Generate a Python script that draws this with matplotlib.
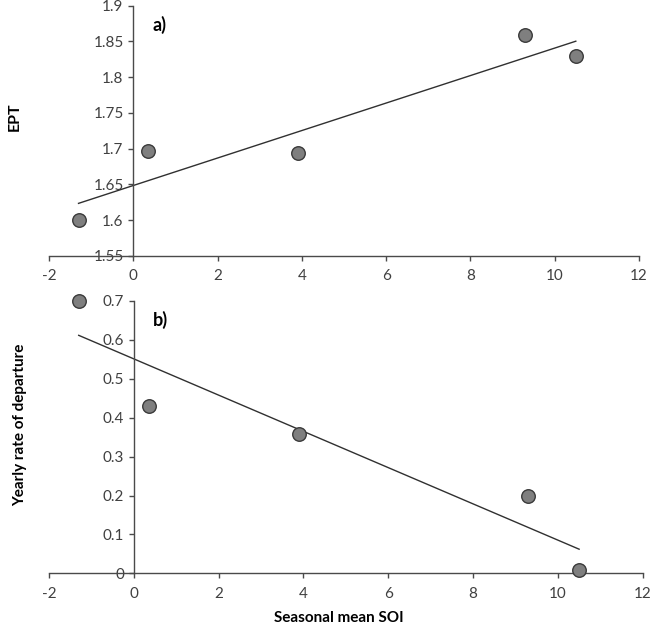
import numpy as np
import matplotlib
matplotlib.use("Agg")
import matplotlib.pyplot as plt

plt.rcParams["font.family"] = ["Lato", "DejaVu Sans"]

# 季节平均 SOI 与两个响应变量
soi = [-1.3, 0.35, 3.9, 9.3, 10.5]
ept = [1.601, 1.697, 1.694, 1.859, 1.829]
departure = [0.70, 0.43, 0.358, 0.20, 0.008]

x_ticks = [-2, 0, 2, 4, 6, 8, 10, 12]
ept_ticks = [1.55, 1.6, 1.65, 1.7, 1.75, 1.8, 1.85, 1.9]
dep_ticks = [0, 0.1, 0.2, 0.3, 0.4, 0.5, 0.6, 0.7]

TICK_C = "#404040"
SPINE_C = "#4a4a4a"


def style(ax, yticks, ylabels):
    ax.spines["top"].set_visible(False)
    ax.spines["right"].set_visible(False)
    ax.spines["left"].set_position(("data", 0))
    for sp in ("left", "bottom"):
        ax.spines[sp].set_color(SPINE_C)
        ax.spines[sp].set_linewidth(1.0)
    ax.set_xlim(-2, 12)
    ax.set_xticks(x_ticks)
    ax.set_xticklabels([str(t) for t in x_ticks])
    ax.set_yticks(yticks)
    ax.set_yticklabels(ylabels)
    ax.tick_params(colors=SPINE_C, labelcolor=TICK_C, labelsize=11,
                   length=3.5, width=1.0, direction="out")
    ax.tick_params(axis="x", pad=6)


def panel(ax, y, yticks, ylabels, ylim):
    k, b = np.polyfit(soi, y, 1)
    xs = np.array([min(soi), max(soi)])
    ax.plot(xs, k * xs + b, color="#303030", lw=1.0, zorder=2)
    ax.scatter(soi, y, s=95, facecolor="#7f7f7f", edgecolor="#3a3a3a",
               linewidth=1.0, zorder=3, clip_on=False)
    style(ax, yticks, ylabels)
    ax.set_ylim(*ylim)


fig = plt.figure(figsize=(6.51, 6.31), dpi=100)
ax1 = fig.add_axes([0.0753, 0.5943, 0.9063, 0.3967])
ax2 = fig.add_axes([0.0753, 0.0914, 0.9120, 0.4316])

panel(ax1, ept, ept_ticks, ["1.55", "1.6", "1.65", "1.7", "1.75", "1.8", "1.85", "1.9"], (1.55, 1.9))
panel(ax2, departure, dep_ticks, ["0", "0.1", "0.2", "0.3", "0.4", "0.5", "0.6", "0.7"], (0, 0.7))

ax1.set_ylabel("EPT", fontsize=11.5, fontweight="bold", color="black")
ax1.yaxis.set_label_coords(-0.046, 0.556)
ax2.set_ylabel("Yearly rate of departure", fontsize=11, fontweight="bold", color="black")
ax2.yaxis.set_label_coords(-0.037, 0.545)
ax2.set_xlabel("Seasonal mean SOI", fontsize=11, fontweight="bold", color="black")
ax2.xaxis.set_label_coords(0.488, -0.139)

ax1.text(0.188, 0.924, "a)", transform=ax1.transAxes, fontsize=13,
         fontweight="bold", ha="center", va="center")
ax2.text(0.187, 0.931, "b)", transform=ax2.transAxes, fontsize=13,
         fontweight="bold", ha="center", va="center")

fig.savefig("out.png", dpi=100, facecolor="white")
